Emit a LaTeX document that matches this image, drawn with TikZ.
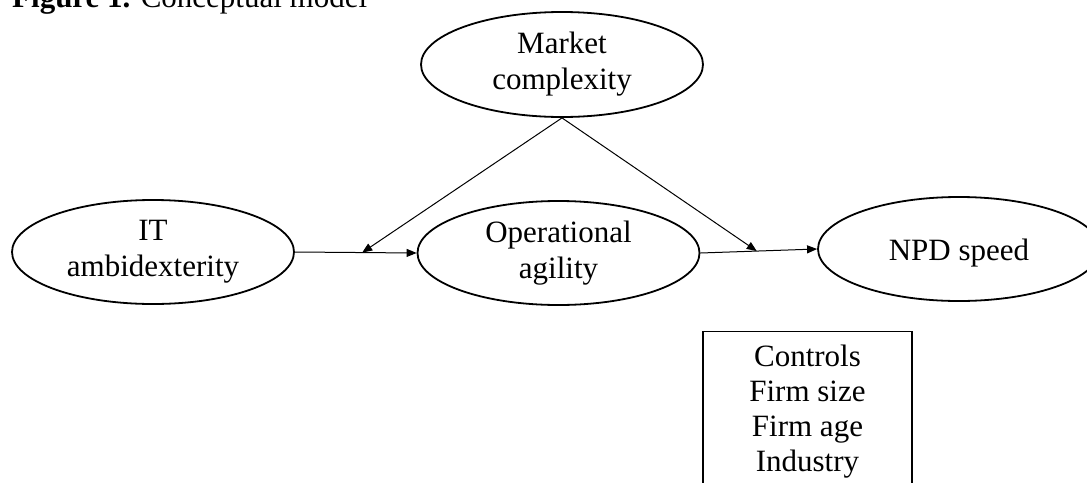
\documentclass[tikz,border=0pt]{standalone}
\usepackage{fontspec}
\setmainfont{Liberation Serif}
\usetikzlibrary{shapes.geometric,arrows.meta,calc}
\tikzset{
  varnode/.style = {align=center, inner sep=0pt, text centered,
    font=\fontsize{31}{36}\selectfont},
  var_e/.style = {varnode, ellipse, draw=black, line width=1.8pt,
    minimum width=282pt, minimum height=104pt,
    execute at begin node={\rule{0pt}{30pt}}},% variable, ellipse
  ctrl_b/.style = {varnode, rectangle, draw=black, line width=1.4pt,
    font=\fontsize{31}{35}\selectfont, minimum width=209pt,
    inner ysep=13pt, anchor=north},% boite des controles
  link_l/.style = {->, line width=1pt}% fleche
}

\begin{document}
\begin{tikzpicture}[x=1pt, y=-1pt, >={Triangle[length=10pt,width=8pt]}]
\useasboundingbox (0,0) rectangle (1087,482);
\node [anchor=base west, inner sep=0pt, font=\fontsize{31}{36}\selectfont]
  (titre) at (12,7) {\textbf{Figure 1.} Conceptual model};
\node [var_e, minimum height=105pt] (mc) at (562,64.5) {Market\\complexity};
\node [var_e] (it) at (153,252) {IT\\ambidexterity};
\node [var_e] (oa) at (558.5,253) {Operational\\agility};
\node [var_e] (npd) at (959,249) {NPD speed};
\node [ctrl_b] (ctrl) at (807.5,331) {Controls\\Firm size\\Firm age\\Industry};
\coordinate (m1) at ($(it.east)!.553!(oa.west)$);
\coordinate (m2) at ($(oa.east)!.483!(npd.west)$);
\draw [link_l] (it.east) -- (oa.west);
\draw [link_l] (oa.east) -- (npd.west);
\draw [link_l] (mc.south) -- (m1);
\draw [link_l] (mc.south) -- (m2);
\end{tikzpicture}
\end{document}
